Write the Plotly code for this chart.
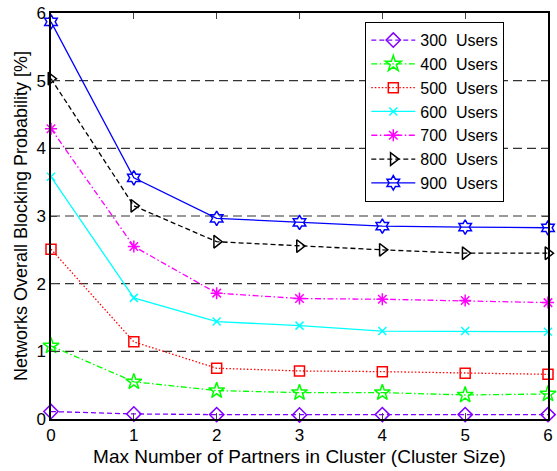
import plotly.graph_objects as go

# Cluster size (max number of partners)
cluster_size = [0, 1, 2, 3, 4, 5, 6]

# Overall blocking probability [%] per user load
users_300 = [0.11, 0.075, 0.065, 0.06, 0.065, 0.065, 0.065]
users_400 = [1.08, 0.55, 0.42, 0.39, 0.39, 0.355, 0.37]
users_500 = [2.51, 1.14, 0.75, 0.71, 0.70, 0.675, 0.66]
users_600 = [3.58, 1.79, 1.44, 1.38, 1.30, 1.30, 1.29]
users_700 = [4.29, 2.55, 1.86, 1.78, 1.77, 1.75, 1.72]
users_800 = [5.03, 3.15, 2.62, 2.555, 2.50, 2.45, 2.45]
users_900 = [5.87, 3.565, 2.965, 2.905, 2.85, 2.836, 2.826]

DASH = "5px,3px"
DOT = "1.5px,2px"
DASHDOT = "6px,2.5px,1.5px,2.5px"

series = [
    ("300  Users", users_300, "#8000FF", DASH, "diamond-open", 11),
    ("400  Users", users_400, "#00FF00", DASHDOT, "star-open", 12),
    ("500  Users", users_500, "#FF0000", DOT, "square-open", 10),
    ("600  Users", users_600, "#00FFFF", "solid", "x-thin-open", 8),
    ("700  Users", users_700, "#FF00FF", DASHDOT, "asterisk-open", 10),
    ("800  Users", users_800, "#000000", DASH, "triangle-right-open", 11),
    ("900  Users", users_900, "#0000FF", "solid", "hexagram-open", 11),
]

fig = go.Figure()
for name, values, color, dash, symbol, msize in series:
    fig.add_trace(go.Scatter(
        x=cluster_size, y=values, name=name.replace("  ", "\u00a0 "),
        mode="lines+markers", legendgroup=name,
        line=dict(color=color, dash=dash, width=1.3),
        marker=dict(symbol=symbol, size=msize, color=color,
                    line=dict(color=color, width=1.5)),
        cliponaxis=False,
    ))

font_family = "Liberation Sans, Arial, Helvetica, sans-serif"

fig.update_layout(
    width=557, height=471,
    margin=dict(l=51, r=4, t=13, b=52),
    paper_bgcolor="white", plot_bgcolor="white",
    font=dict(family=font_family, size=17, color="black"),
    showlegend=True,
    legend=dict(
        x=0.632, y=0.978, xanchor="left", yanchor="top",
        bgcolor="white", bordercolor="black", borderwidth=1.2,
        font=dict(size=16), traceorder="grouped", tracegroupgap=0,
        itemwidth=44, entrywidth=142,
    ),
    xaxis=dict(
        range=[0, 6], tickvals=cluster_size, ticks="inside", ticklen=6,
        showline=True, linecolor="black", linewidth=1.5, mirror="ticks",
        showgrid=False, zeroline=False,
        tickfont=dict(size=17),
        title=dict(text="Max Number of Partners in Cluster (Cluster Size)",
                   font=dict(size=19), standoff=6),
    ),
    yaxis=dict(
        range=[0, 6], tickvals=[0, 1, 2, 3, 4, 5, 6], ticks="inside", ticklen=6,
        showline=True, linecolor="black", linewidth=1.5, mirror="ticks",
        showgrid=False, zeroline=False,
        tickfont=dict(size=17),
        title=dict(text="Networks Overall Blocking Probability [%]",
                   font=dict(size=18), standoff=4),
    ),
)

# Dashed horizontal reference lines at the interior y ticks
for yv in [1, 2, 3, 4, 5]:
    fig.add_shape(type="line", xref="x", yref="y", x0=0, x1=6, y0=yv, y1=yv,
                  line=dict(color="#333333", width=1.2, dash="9px,5px"),
                  layer="below")

fig.write_html("out.html")
